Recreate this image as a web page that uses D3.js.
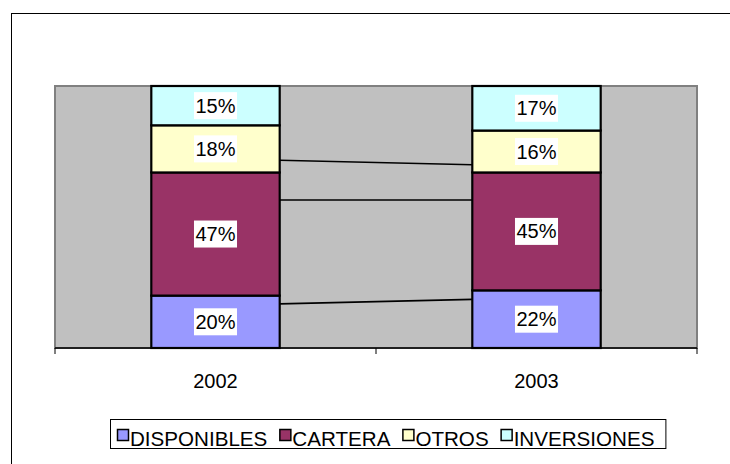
<!DOCTYPE html>
<html><head><meta charset="utf-8">
<script src="https://cdn.jsdelivr.net/npm/d3@7"></script>
<style>body{margin:0;background:#fff}svg{display:block;font-family:"Liberation Sans",Arial,sans-serif}</style>
</head><body><svg id="c" width="730" height="464"></svg>
<script>
const categories = ["2002", "2003"];
const seriesNames = ["DISPONIBLES", "CARTERA", "OTROS", "INVERSIONES"];
const seriesColors = ["#9999FF", "#993366", "#FFFFCC", "#CCFFFF"];
const disponibles = [20, 22];
const cartera = [47, 45];
const otros = [18, 16];
const inversiones = [15, 17];

const svg = d3.select("#c");
const M = {left: 55, top: 86, right: 697, bottom: 348};
const plotH = M.bottom - M.top;

// outer chart border
svg.append("rect").attr("x", 11.5).attr("y", 13.5).attr("width", 740).attr("height", 480)
  .attr("fill", "#fff").attr("stroke", "#000").attr("stroke-width", 1);

const x = d3.scaleBand().domain(categories).range([M.left, M.right]).paddingInner(0.6).paddingOuter(0.3);
const xCat = d3.scaleBand().domain(categories).range([M.left, M.right]);
const y = d3.scaleLinear().domain([0, 1]).range([M.bottom, M.top]);
const yConn = d3.scaleLinear().domain([0, 1]).range([M.bottom, M.bottom - plotH * 0.843]);

// plot area
svg.append("rect").attr("x", M.left).attr("y", M.top).attr("width", M.right - M.left).attr("height", plotH)
  .attr("fill", "#C0C0C0").attr("stroke", "#808080").attr("stroke-width", 2);

const rows = categories.map((c, i) => ({cat: c, DISPONIBLES: disponibles[i], CARTERA: cartera[i], OTROS: otros[i], INVERSIONES: inversiones[i]}));
rows.forEach(r => { r.total = seriesNames.reduce((s, k) => s + r[k], 0); });
const stack = d3.stack().keys(seriesNames).value((d, k) => d[k] / d.total);
const layers = stack(rows);

// series lines
layers.slice(0, 3).forEach(layer => {
  for (let i = 0; i < layer.length - 1; i++) {
    svg.append("line")
      .attr("x1", x(categories[i]) + x.bandwidth()).attr("y1", yConn(layer[i][1]))
      .attr("x2", x(categories[i + 1])).attr("y2", yConn(layer[i + 1][1]))
      .attr("stroke", "#000").attr("stroke-width", 1.6);
  }
});

// bars
layers.forEach((layer, li) => {
  svg.append("g").selectAll("rect").data(layer).join("rect")
    .attr("x", d => x(d.data.cat)).attr("width", x.bandwidth())
    .attr("y", d => y(d[1])).attr("height", d => y(d[0]) - y(d[1]))
    .attr("fill", seriesColors[li]).attr("stroke", "#000").attr("stroke-width", 2.2);
});

// labels
layers.forEach((layer, li) => {
  layer.forEach(d => {
    const cx = x(d.data.cat) + x.bandwidth() / 2;
    const cy = (y(d[0]) + y(d[1])) / 2;
    const g = svg.append("g");
    const t = g.append("text").attr("x", cx).attr("y", cy + 7).attr("text-anchor", "middle")
      .attr("font-size", 20).attr("fill", "#000").text(d.data[layer.key] + "%");
    const w = t.node().getComputedTextLength();
    g.insert("rect", "text").attr("x", cx - w / 2 - 1.5).attr("y", cy - 13.5).attr("width", w + 3).attr("height", 27).attr("fill", "#fff");
  });
});

// x axis
const ax = svg.append("g");
ax.append("line").attr("x1", M.left).attr("x2", M.right).attr("y1", M.bottom).attr("y2", M.bottom).attr("stroke", "#000").attr("stroke-width", 1.5);
const tickXs = categories.map(c => xCat(c)).concat([M.right]);
ax.selectAll("line.tk").data(tickXs).join("line").attr("class", "tk")
  .attr("x1", d => d).attr("x2", d => d).attr("y1", M.bottom).attr("y2", M.bottom + 6).attr("stroke", "#000").attr("stroke-width", 1);
ax.selectAll("text").data(categories).join("text")
  .attr("x", d => xCat(d) + xCat.bandwidth() / 2).attr("y", 388).attr("text-anchor", "middle")
  .attr("font-size", 20).text(d => d);

// legend
const lg = svg.append("g");
const box = lg.append("rect").attr("y", 419.5).attr("height", 29).attr("fill", "#fff").attr("stroke", "#000").attr("stroke-width", 1);
let cx = 117;
seriesNames.forEach((n, i) => {
  lg.append("rect").attr("x", cx + 0.5).attr("y", 429.5).attr("width", 11).attr("height", 11)
    .attr("fill", seriesColors[i]).attr("stroke", "#000").attr("stroke-width", 1.5);
  const t = lg.append("text").attr("x", cx + 13).attr("y", 445.5).attr("font-size", 20.6).text(n);
  cx += 13 + t.node().getComputedTextLength() + 12;
});
box.attr("x", 110.5).attr("width", cx - 12 + 11 - 110);
</script></body></html>
